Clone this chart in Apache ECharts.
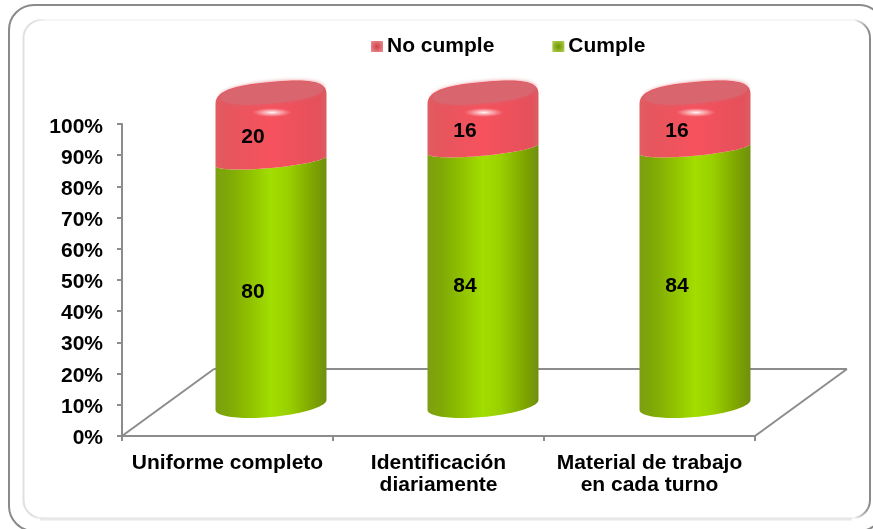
<!DOCTYPE html>
<html>
<head>
<meta charset="utf-8">
<style>html,body{margin:0;padding:0;background:#fff}#chart{width:873px;height:529px}</style>
<script src="https://cdn.jsdelivr.net/npm/echarts@6/dist/echarts.min.js"></script>
</head>
<body>
<div id="chart"></div>
<script>
const categories = ['Uniforme completo', 'Identificación\ndiariamente', 'Material de trabajo\nen cada turno'];
const cumple = [80, 84, 84];
const noCumple = [20, 16, 16];
const seriesNames = ['No cumple', 'Cumple'];

const FONT = '"Liberation Sans", Arial, sans-serif';
const INK = '#000';
const AXIS_GRAY = '#8c8c8c';

// Front plane of the pseudo-3D chart, the plane the cylinders stand on,
// and the band that carries the percentage labels.
const front = { left: 122, top: 124, width: 633, height: 312 };
const stand = { left: 165, top: 100, width: 636, height: 305 };
const labelBand = { left: 122, top: 127, width: 633, height: 311 };
const depth = { x: 92, y: -67 };

const TILT = -0.09;

function horizontal(stops) {
  return {
    type: 'linear', x: 0, y: 0, x2: 1, y2: 0,
    colorStops: stops.map(function (s) { return { offset: s[0], color: s[1] }; })
  };
}
function keyGlow(centre, edge) {
  return {
    type: 'radial', x: 0.5, y: 0.5, r: 0.7,
    colorStops: [{ offset: 0, color: centre }, { offset: 1, color: edge }]
  };
}
const greenFill = horizontal([[0, '#7d9f12'], [0.12, '#7fa806'], [0.3, '#8fc000'], [0.5, '#a2de00'], [0.66, '#99d000'], [0.88, '#7ea400'], [1, '#6f8f10']]);
const redFill = horizontal([[0, '#e05e63'], [0.08, '#e5565d'], [0.5, '#f6525e'], [0.92, '#e5505a'], [1, '#dc5c62']]);

// Tilted rim of the cylinder; squareness below 1 rounds the shoulders outward.
function rim(cx, cy, a, b, from, to, squareness) {
  const pts = [];
  const n = 48;
  for (let i = 0; i <= n; i++) {
    const t = from + (to - from) * i / n;
    const c = Math.cos(t);
    const s = Math.sin(t);
    const x = a * Math.sign(c) * Math.pow(Math.abs(c), squareness);
    const y = b * Math.sign(s) * Math.pow(Math.abs(s), squareness);
    pts.push([cx + x, cy + TILT * x + y]);
  }
  return pts;
}

function renderCylinder(params, api) {
  const idx = api.value(0);
  const start = api.value(1);
  const end = api.value(2);
  const low = api.coord([idx, start]);
  const high = api.coord([idx, end]);
  const halfW = api.size([1, 0])[0] * 0.2618;
  const cx = low[0];
  const isTop = end >= 100;
  const midY = (low[1] + high[1]) / 2;
  const children = [];

  const lowerRim = rim(cx, low[1], halfW, start === 0 ? 12 : 7, Math.PI, 0, 1);
  const upperRim = isTop
    ? rim(cx, high[1], halfW, 18, 0, -Math.PI, 0.72)
    : rim(cx, high[1], halfW, 7, 0, Math.PI, 1);
  children.push({
    type: 'polygon',
    shape: { points: lowerRim.concat(upperRim) },
    style: { fill: isTop ? redFill : greenFill }
  });

  if (isTop) {
    children.push({
      type: 'polygon',
      shape: { points: rim(cx + 1, high[1] - 7, halfW - 4, 10.5, 0, Math.PI * 2, 0.9) },
      style: { fill: '#d9656f', shadowBlur: 4, shadowColor: '#dd5f69' }
    });
    // Soft specular spot on the rounded shoulder.
    children.push({
      type: 'circle',
      x: cx + 1,
      y: high[1] + 12.5,
      scaleX: 4.4,
      shape: { cx: 0, cy: 0, r: 4.5 },
      style: {
        fill: {
          type: 'radial', x: 0.5, y: 0.5, r: 0.5,
          colorStops: [
            { offset: 0, color: 'rgba(255,255,255,0.95)' },
            { offset: 0.45, color: 'rgba(255,235,235,0.55)' },
            { offset: 1, color: 'rgba(255,200,200,0)' }
          ]
        }
      }
    });
  }

  children.push({
    type: 'text',
    style: {
      x: cx - 18,
      y: midY + (isTop ? 6.5 : 9.5),
      text: String(end - start),
      fill: INK,
      font: 'bold 21px ' + FONT,
      align: 'center',
      verticalAlign: 'middle'
    }
  });
  return { type: 'group', children: children };
}

function tripleFor(values, bases) {
  return values.map(function (v, i) { return [i, bases[i], bases[i] + v]; });
}

const floorLine = { stroke: AXIS_GRAY, lineWidth: 2 };
const bottom = front.top + front.height;
const right = front.left + front.width;

const chart = echarts.init(document.getElementById('chart'), null, { renderer: 'canvas' });
chart.setOption({
  animation: false,
  backgroundColor: '#fff',
  grid: [
    { left: front.left, top: front.top, width: front.width, height: front.height, containLabel: false },
    { left: stand.left, top: stand.top, width: stand.width, height: stand.height, containLabel: false },
    { left: labelBand.left, top: labelBand.top, width: labelBand.width, height: labelBand.height, containLabel: false }
  ],
  xAxis: [
    {
      type: 'category', gridIndex: 0, data: categories,
      axisLine: { lineStyle: { color: AXIS_GRAY, width: 2 } },
      axisTick: { show: true, length: 5, alignWithLabel: false, lineStyle: { color: AXIS_GRAY, width: 2 } },
      axisLabel: { interval: 0, color: INK, fontFamily: FONT, fontWeight: 'bold', fontSize: 21, lineHeight: 22, margin: 16 }
    },
    { type: 'category', gridIndex: 1, data: categories, show: false },
    { type: 'category', gridIndex: 2, data: categories, show: false }
  ],
  yAxis: [
    {
      type: 'value', gridIndex: 0, min: 0, max: 100, interval: 10,
      axisLine: { show: true, lineStyle: { color: AXIS_GRAY, width: 2 } },
      axisTick: { show: true, length: 5, lineStyle: { color: AXIS_GRAY, width: 2 } },
      splitLine: { show: false },
      axisLabel: { show: false }
    },
    { type: 'value', gridIndex: 1, min: 0, max: 100, show: false },
    {
      type: 'value', gridIndex: 2, min: 0, max: 100, interval: 10,
      axisLine: { show: false },
      axisTick: { show: false },
      splitLine: { show: false },
      axisLabel: { formatter: '{value}%', color: INK, fontFamily: FONT, fontWeight: 'bold', fontSize: 21, margin: 19 }
    }
  ],
  legend: {
    left: 366, top: 31, itemWidth: 12, itemHeight: 11, itemGap: 58, icon: 'rect',
    data: [
      { name: seriesNames[0], itemStyle: { color: keyGlow('#cf4048', '#ec8f94') } },
      { name: seriesNames[1], itemStyle: { color: keyGlow('#6f9500', '#b2d050') } }
    ],
    textStyle: { color: INK, fontFamily: FONT, fontWeight: 'bold', fontSize: 21, padding: [0, 0, 0, -1] }
  },
  graphic: [
    // Outer frame runs past the right and bottom page edges.
    { type: 'rect', z: -3, shape: { x: 9, y: 5, width: 875, height: 526, r: 25 }, style: { fill: '#fff', stroke: '#8a8a8a', lineWidth: 2 } },
    {
      type: 'rect', z: -2,
      shape: { x: 23.5, y: 20, width: 846.5, height: 498, r: 18 },
      style: {
        fill: '#fff', lineWidth: 2,
        stroke: {
          type: 'linear', x: 0, y: 0, x2: 1, y2: 0,
          colorStops: [
            { offset: 0, color: '#e0e0e0' }, { offset: 0.012, color: '#e0e0e0' },
            { offset: 0.03, color: '#f6f6f6' }, { offset: 0.98, color: '#f6f6f6' },
            { offset: 0.998, color: '#8a8a8a' }, { offset: 1, color: '#8a8a8a' }
          ]
        }
      }
    },
    { type: 'line', z: -1, shape: { x1: 40, y1: 519, x2: 852, y2: 519 }, style: { stroke: '#e8e8e8', lineWidth: 3 } },
    { type: 'line', z: 0, shape: { x1: front.left, y1: bottom, x2: front.left + depth.x, y2: bottom + depth.y }, style: floorLine },
    { type: 'line', z: 0, shape: { x1: front.left + depth.x, y1: bottom + depth.y, x2: right + depth.x, y2: bottom + depth.y }, style: floorLine },
    { type: 'line', z: 0, shape: { x1: right, y1: bottom, x2: right + depth.x, y2: bottom + depth.y }, style: floorLine }
  ],
  series: [
    {
      name: seriesNames[1], type: 'custom', xAxisIndex: 1, yAxisIndex: 1, clip: false, z: 3,
      itemStyle: { color: '#8ab800' },
      renderItem: renderCylinder,
      encode: { x: 0, y: [1, 2] },
      data: tripleFor(cumple, [0, 0, 0])
    },
    {
      name: seriesNames[0], type: 'custom', xAxisIndex: 1, yAxisIndex: 1, clip: false, z: 3,
      itemStyle: { color: '#d9525a' },
      renderItem: renderCylinder,
      encode: { x: 0, y: [1, 2] },
      data: tripleFor(noCumple, cumple)
    }
  ]
});
</script>
</body>
</html>
